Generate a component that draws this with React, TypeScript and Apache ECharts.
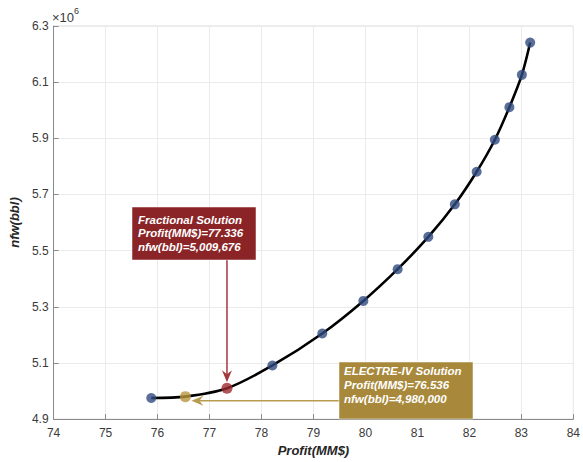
import React, { useEffect, useRef } from "react";
import * as echarts from "echarts";

// Pareto frontier: profit (MM$) vs. nfw (bbl)
const frontierProfit = [75.88, 78.21, 79.17, 79.96, 80.62, 81.21, 81.72, 82.14, 82.49, 82.77, 83.01, 83.17];
const frontierNfw = [4975000, 5091000, 5205000, 5321000, 5434000, 5549000, 5665000, 5781000, 5895000, 6011000, 6126000, 6241000];

// Highlighted solutions
const fractionalProfit = 77.336;
const fractionalNfw = 5009676;
const electreProfit = 76.536;
const electreNfw = 4980000;

const xTicks = { min: 74, max: 84, interval: 1 };
const yTicks = { min: 4900000, max: 6300000, interval: 200000 };

const FONT = '"Liberation Sans", Arial, Helvetica, sans-serif';
const AXIS_TEXT = "#3a3a3a";
const RED = "#8b2427";
const RED_ARROW = "#a3383d";
const GOLD = "#a8893b";
const GOLD_ARROW = "#b89b50";
const BLUE = "#2f4a7f";

const fmtNfw = (v: number) => v.toLocaleString("en-US");

export default function App() {
  const ref = useRef<HTMLDivElement>(null);

  useEffect(() => {
    if (!ref.current) return;
    const chart = echarts.init(ref.current, null, { renderer: "svg" });

    // whole curve passes through the two highlighted solutions as well
    const curve: [number, number][] = frontierProfit
      .map((p, i) => [p, frontierNfw[i]] as [number, number])
      .concat([
        [fractionalProfit, fractionalNfw],
        [electreProfit, electreNfw],
      ])
      .sort((a, b) => a[0] - b[0]);

    const frontier = frontierProfit.map((p, i) => [p, frontierNfw[i]]);

    chart.setOption({
      animation: false,
      backgroundColor: "#ffffff",
      grid: {
        left: 51,
        right: 5,
        top: 26,
        bottom: 40,
        show: true,
        borderColor: "#dcdcdc",
        borderWidth: 1,
      },
      xAxis: {
        type: "value",
        min: xTicks.min,
        max: xTicks.max,
        interval: xTicks.interval,
        name: "Profit(MM$)",
        nameLocation: "middle",
        nameGap: 24,
        nameTextStyle: {
          fontFamily: FONT,
          fontSize: 13,
          fontWeight: "bold",
          fontStyle: "italic",
          color: "#262626",
          verticalAlign: "top",
        },
        axisLine: { show: true, lineStyle: { color: "#8a8a8a", width: 1 } },
        axisTick: { show: true, inside: true, length: 5, lineStyle: { color: "#8a8a8a" } },
        axisLabel: { fontFamily: FONT, fontSize: 12, color: AXIS_TEXT, margin: 8 },
        splitLine: { show: true, lineStyle: { color: "#ebebeb", width: 1 } },
      },
      yAxis: {
        type: "value",
        min: yTicks.min,
        max: yTicks.max,
        interval: yTicks.interval,
        name: "nfw(bbl)",
        nameLocation: "middle",
        nameGap: 29,
        nameRotate: 90,
        nameTextStyle: {
          fontFamily: FONT,
          fontSize: 13,
          fontWeight: "bold",
          fontStyle: "italic",
          color: "#262626",
        },
        axisLine: { show: true, lineStyle: { color: "#8a8a8a", width: 1 } },
        axisTick: { show: true, inside: true, length: 5, lineStyle: { color: "#8a8a8a" } },
        axisLabel: {
          fontFamily: FONT,
          fontSize: 12,
          color: AXIS_TEXT,
          margin: 5,
          formatter: (v: number) => (v / 1e6).toFixed(1),
        },
        splitLine: { show: true, lineStyle: { color: "#ebebeb", width: 1 } },
      },
      series: [
        {
          type: "line",
          data: curve,
          smooth: 0.3,
          showSymbol: false,
          lineStyle: { color: "#000000", width: 2.6 },
          z: 2,
        },
        {
          type: "scatter",
          data: frontier,
          symbolSize: 10,
          itemStyle: { color: BLUE },
          z: 3,
        },
        {
          type: "scatter",
          data: [[fractionalProfit, fractionalNfw]],
          symbolSize: 11,
          itemStyle: { color: "#9e2a2f" },
          z: 4,
        },
        {
          type: "scatter",
          data: [[electreProfit, electreNfw]],
          symbolSize: 11,
          itemStyle: { color: "#b8963f" },
          z: 4,
        },
      ],
    });

    const pf = chart.convertToPixel({ gridIndex: 0 }, [fractionalProfit, fractionalNfw]) as number[];
    const pe = chart.convertToPixel({ gridIndex: 0 }, [electreProfit, electreNfw]) as number[];

    const boxText = (x: number, y: number, text: string) => ({
      type: "text",
      x,
      y,
      z: 21,
      style: {
        text,
        fill: "#ffffff",
        font: `italic bold 11.5px ${FONT}`,
        textVerticalAlign: "middle",
        verticalAlign: "middle",
      },
    });

    // Fractional solution annotation (box above, arrow pointing down)
    const fBox = { x: 132, y: 207, w: 124, h: 53 };
    const fTipY = pf[1] - 6;
    // ELECTRE-IV annotation (box to the right, arrow pointing left)
    const eBox = { x: 339, y: 362, w: 134, h: 57 };
    const eTipX = pe[0] + 6;
    const eArrowY = pe[1] + 4;

    chart.setOption({
      graphic: [
        {
          type: "text",
          x: 52,
          y: 6,
          style: {
            text: "{a|×10}{b|6}",
            rich: {
              a: { fontFamily: FONT, fontSize: 13, fill: AXIS_TEXT, verticalAlign: "bottom" },
              b: { fontFamily: FONT, fontSize: 9, fill: AXIS_TEXT, verticalAlign: "top", padding: [0, 0, 9, 0] },
            },
          },
        },
        // fractional arrow
        {
          type: "line",
          z: 1,
          shape: { x1: pf[0], y1: fBox.y + fBox.h, x2: pf[0], y2: fTipY - 6 },
          style: { stroke: RED_ARROW, lineWidth: 1.5 },
        },
        {
          type: "polygon",
          z: 1,
          shape: {
            points: [
              [pf[0], fTipY],
              [pf[0] - 5, fTipY - 12],
              [pf[0], fTipY - 8],
              [pf[0] + 5, fTipY - 12],
            ],
          },
          style: { fill: RED_ARROW },
        },
        {
          type: "rect",
          z: 20,
          shape: { x: fBox.x, y: fBox.y, width: fBox.w, height: fBox.h },
          style: { fill: RED, stroke: "#ffffff", lineWidth: 0.5 },
        },
        boxText(fBox.x + 6, fBox.y + 13, "Fractional Solution"),
        boxText(fBox.x + 6, fBox.y + 26, `Profit(MM$)=${fractionalProfit.toFixed(3)}`),
        boxText(fBox.x + 6, fBox.y + 40, `nfw(bbl)=${fmtNfw(fractionalNfw)}`),
        // ELECTRE arrow
        {
          type: "line",
          z: 1,
          shape: { x1: eBox.x, y1: eArrowY, x2: eTipX + 6, y2: eArrowY },
          style: { stroke: GOLD_ARROW, lineWidth: 1.5 },
        },
        {
          type: "polygon",
          z: 1,
          shape: {
            points: [
              [eTipX, eArrowY],
              [eTipX + 12, eArrowY - 5],
              [eTipX + 8, eArrowY],
              [eTipX + 12, eArrowY + 5],
            ],
          },
          style: { fill: GOLD_ARROW },
        },
        {
          type: "rect",
          z: 20,
          shape: { x: eBox.x, y: eBox.y, width: eBox.w, height: eBox.h },
          style: { fill: GOLD, stroke: "#ffffff", lineWidth: 0.5 },
        },
        boxText(eBox.x + 5, eBox.y + 9, "ELECTRE-IV Solution"),
        boxText(eBox.x + 5, eBox.y + 23, `Profit(MM$)=${electreProfit.toFixed(3)}`),
        boxText(eBox.x + 5, eBox.y + 37, `nfw(bbl)=${fmtNfw(electreNfw)}`),
      ],
    });

    return () => chart.dispose();
  }, []);

  return (
    <div
      ref={ref}
      style={{ position: "absolute", left: 0, top: 0, width: 583, height: 462 }}
    />
  );
}
